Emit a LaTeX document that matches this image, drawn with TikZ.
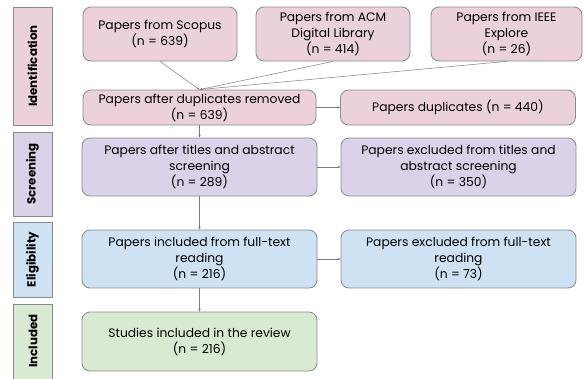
\documentclass[tikz,border=0pt]{standalone}
\usepackage{fontspec}
\setmainfont{Poppins}
\usetikzlibrary{arrows.meta}

\definecolor{idpink}{HTML}{EAD1DC}
\definecolor{scrpurple}{HTML}{D9D2E9}
\definecolor{eliblue}{HTML}{CFE2F3}
\definecolor{incgreen}{HTML}{D9EAD3}
\definecolor{edgegray}{HTML}{8A8A8A}

\tikzset{
  stagebox/.style={draw=edgegray, line width=0.8pt, inner sep=0pt,
    minimum width=235pt, align=center, rounded corners=8pt,
    font=\fontsize{12.3}{16}\selectfont},
  phasebar/.style={draw=edgegray, line width=0.8pt, inner sep=0pt,
    minimum width=39pt},
  phaselabel/.style={rotate=90, font=\bfseries\fontsize{11.8}{13}\selectfont},
  flow/.style={draw=edgegray!90!black, line width=0.5pt,
    -{Stealth[length=3pt,width=2.5pt]}}
}

\begin{document}
\begin{tikzpicture}[x=1pt, y=-1pt]
    \useasboundingbox (0,0) rectangle (584,378);

    % phases on the left
    \node[phasebar, fill=idpink,     minimum height=118pt] (ident) at (32.5,66)  {};
    \node[phasebar, fill=scrpurple,  minimum height=84pt]  (scr)   at (32.5,174) {};
    \node[phasebar, fill=eliblue,    minimum height=75pt]  (elig)  at (32.5,259.5) {};
    \node[phasebar, fill=incgreen,   minimum height=80pt]  (incl)  at (32.5,344) {};
    \node[phaselabel] (identtxt) at (ident) {Identification};
    \node[phaselabel] (scrtxt)   at (scr)   {Screening};
    \node[phaselabel] (eligtxt)  at (elig)  {Eligibility};
    \node[phaselabel] (incltxt)  at (33,341) {Included};

    % identification
    \node[stagebox, fill=idpink, minimum width=154pt, minimum height=54pt] (scopus) at (160,34)
      {Papers from Scopus\\(n = 639)};
    \node[stagebox, fill=idpink, minimum width=154pt, minimum height=54pt] (acm) at (333,34)
      {Papers from ACM\\Digital Library\\(n = 414)};
    \node[stagebox, fill=idpink, minimum width=151pt, minimum height=54pt] (ieee) at (506.5,34)
      {Papers from IEEE\\Explore\\(n = 26)};
    \node[stagebox, fill=idpink, minimum width=233pt, minimum height=35pt] (dedup) at (199.5,107.5)
      {Papers after duplicates removed\\(n = 639)};
    \node[stagebox, fill=idpink, minimum height=35pt] (dups) at (458,107.5)
      {Papers duplicates (n = 440)};

    % screening
    \node[stagebox, fill=scrpurple, minimum height=58pt] (titles) at (199.5,167)
      {Papers after titles and abstract\\screening\\(n = 289)};
    \node[stagebox, fill=scrpurple, minimum height=58pt] (extitles) at (458.5,167)
      {Papers excluded from titles and\\abstract screening\\(n = 350)};

    % eligibility
    \node[stagebox, fill=eliblue, minimum height=58pt] (full) at (199.5,259)
      {Papers included from full-text\\reading\\(n = 216)};
    \node[stagebox, fill=eliblue, minimum height=58pt] (exfull) at (458.5,259)
      {Papers excluded from full-text\\reading\\(n = 73)};

    % included
    \node[stagebox, fill=incgreen, minimum height=59pt] (studies) at (199.5,341.5)
      {Studies included in the review\\(n = 216)};

    \draw[flow] (scopus.south) -- (dedup.north);
    \draw[flow] (acm.south)    -- (dedup.north);
    \draw[flow] (ieee.south)   -- (dedup.north);
    \draw[flow] (dedup) -- (dups);
    \draw[flow] (dedup) -- (titles);
    \draw[flow] (titles) -- (extitles);
    \draw[flow] (titles) -- (full);
    \draw[flow] (full) -- (exfull);
    \draw[flow] (full) -- (studies);
\end{tikzpicture}
\end{document}
